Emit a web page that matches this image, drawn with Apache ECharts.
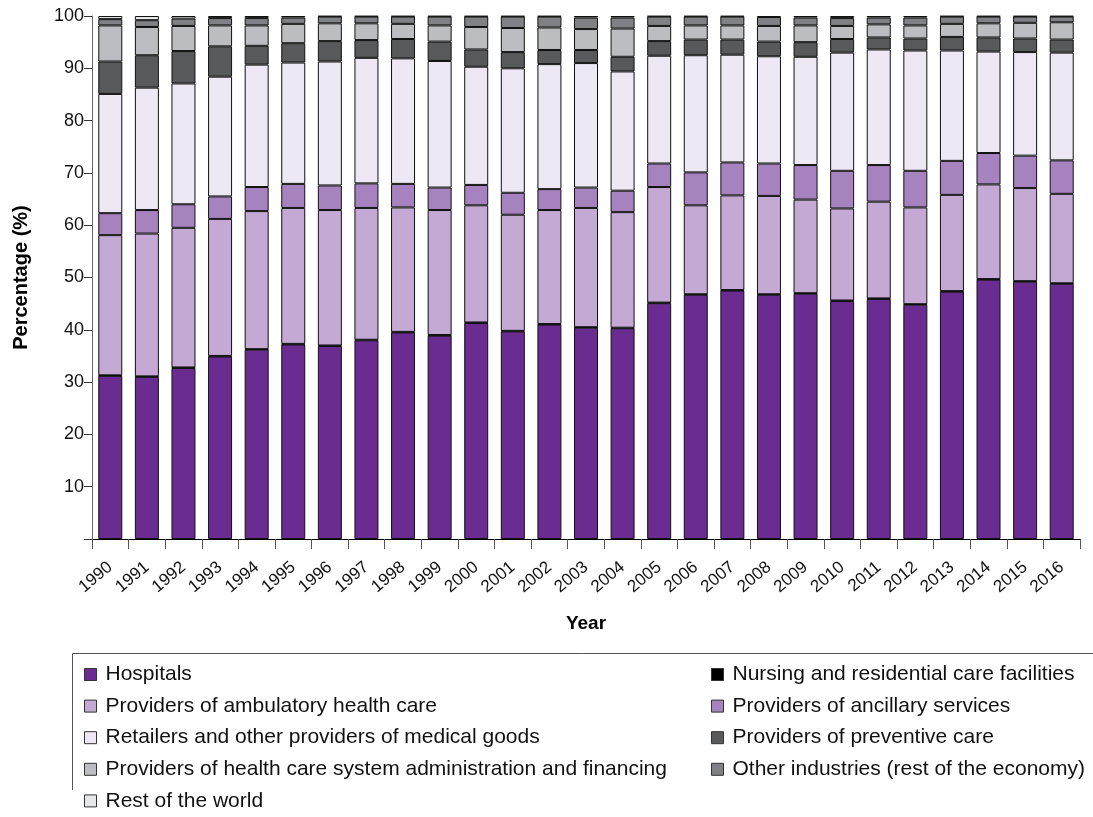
<!DOCTYPE html>
<html><head><meta charset="utf-8">
<script src="https://cdn.jsdelivr.net/npm/echarts@6/dist/echarts.min.js"></script>
<style>html,body{margin:0;padding:0;background:#fff}#c{width:1093px;height:817px}</style>
</head><body><div id="c"></div>
<script>
const years = ['1990','1991','1992','1993','1994','1995','1996','1997','1998','1999','2000','2001','2002','2003','2004','2005','2006','2007','2008','2009','2010','2011','2012','2013','2014','2015','2016'];
const hospitals = [31.2,31.0,32.7,34.9,36.2,37.2,36.9,38.0,39.5,38.9,41.3,39.7,41.0,40.4,40.3,45.1,46.7,47.5,46.7,46.9,45.5,45.9,44.8,47.3,49.6,49.2,48.8];
const nursing = [0.1,0.1,0.1,0.1,0.1,0.1,0.1,0.1,0.1,0.1,0.1,0.1,0.1,0.1,0.1,0.1,0.1,0.1,0.1,0.1,0.1,0.1,0.1,0.1,0.1,0.1,0.1];
const ambulatory = [26.8,27.3,26.7,26.2,26.4,26.0,25.9,25.2,23.8,23.9,22.4,22.2,21.8,22.8,22.1,22.1,17.0,18.1,18.8,17.9,17.6,18.5,18.5,18.4,18.1,17.8,17.1];
const ancillary = [4.2,4.5,4.5,4.3,4.6,4.6,4.7,4.7,4.5,4.3,3.9,4.2,4.0,3.9,4.1,4.5,6.3,6.3,6.2,6.6,7.2,7.0,7.0,6.5,6.0,6.2,6.4];
const retailers = [22.8,23.4,23.1,22.9,23.4,23.2,23.7,24.0,24.0,24.2,22.6,23.8,23.9,23.8,22.8,20.6,22.4,20.6,20.5,20.7,22.6,22.1,23.0,21.1,19.4,19.8,20.6];
const preventive = [6.2,6.2,6.2,5.8,3.6,3.7,3.9,3.4,3.7,3.7,3.3,3.1,2.7,2.5,2.8,2.8,3.0,2.9,2.8,2.8,2.6,2.3,2.3,2.6,2.7,2.6,2.5];
const administration = [6.9,5.4,4.8,4.0,3.9,3.7,3.4,3.2,2.9,3.1,4.3,4.6,4.3,4.0,5.4,2.9,2.7,2.7,3.0,3.2,2.5,2.5,2.5,2.5,2.7,3.0,3.3];
const otherIndustries = [1.2,1.3,1.4,1.4,1.4,1.2,1.3,1.3,1.4,1.7,2.0,2.2,2.1,2.2,2.1,1.8,1.7,1.7,1.7,1.5,1.5,1.3,1.5,1.4,1.3,1.2,1.1];
const restOfWorld = [0.6,0.8,0.5,0.4,0.4,0.3,0.1,0.1,0.1,0.1,0.1,0.1,0.1,0.3,0.3,0.1,0.1,0.1,0.2,0.3,0.4,0.3,0.3,0.1,0.1,0.1,0.1];
const yTicks = [10,20,30,40,50,60,70,80,90,100];

const seriesDefs = [
  ['Hospitals', hospitals, '#6a2c91'],
  ['Nursing and residential care facilities', nursing, '#000000'],
  ['Providers of ambulatory health care', ambulatory, '#c3a9d3'],
  ['Providers of ancillary services', ancillary, '#a682be'],
  ['Retailers and other providers of medical goods', retailers, '#eee8f4'],
  ['Providers of preventive care', preventive, '#58595b'],
  ['Providers of health care system administration and financing', administration, '#bcbdc0'],
  ['Other industries (rest of the economy)', otherIndustries, '#808184'],
  ['Rest of the world', restOfWorld, '#e6e7e8']
];

const chart = echarts.init(document.getElementById('c'), null, {renderer:'canvas'});
const font = 'Liberation Sans, Arial, sans-serif';
const legendText = {fontSize: 21, color: '#111', fontFamily: font, padding: [0,0,0,4]};
chart.setOption({
  animation: false,
  textStyle: {fontFamily: font},
  grid: {left: 92, right: 13, top: 16, bottom: 278, containLabel: false},
  xAxis: {
    type: 'category', data: years,
    name: 'Year', nameLocation: 'middle', nameGap: 75,
    nameTextStyle: {fontFamily: font, fontWeight: 'bold', fontSize: 19, color: '#000'},
    axisLine: {lineStyle: {color: '#000', width: 1}},
    axisTick: {show: true, length: 10, lineStyle: {color: '#555'}},
    axisLabel: {rotate: 40, fontSize: 17, color: '#111', margin: 26, fontFamily: font}
  },
  yAxis: {
    type: 'value', min: 0, max: 100, interval: 10,
    name: 'Percentage (%)', nameLocation: 'middle', nameGap: 61,
    nameTextStyle: {fontFamily: font, fontWeight: 'bold', fontSize: 20, color: '#000'},
    axisLine: {show: true, lineStyle: {color: '#666', width: 1}},
    axisTick: {show: true, length: 8, lineStyle: {color: '#333'}},
    splitLine: {show: false},
    axisLabel: {fontSize: 18, color: '#111', margin: 8, fontFamily: font,
      formatter: v => yTicks.indexOf(v) >= 0 ? String(v) : ''}
  },
  legend: [
    {orient: 'vertical', left: 79, top: 659, itemGap: 10.6, itemWidth: 12, itemHeight: 12, icon: 'rect',
     textStyle: legendText,
     itemStyle: {borderColor: '#333', borderWidth: 1},
     data: [seriesDefs[0][0], seriesDefs[2][0], seriesDefs[4][0], seriesDefs[6][0], seriesDefs[8][0]]},
    {orient: 'vertical', left: 706, top: 659, itemGap: 10.6, itemWidth: 12, itemHeight: 12, icon: 'rect',
     textStyle: legendText,
     itemStyle: {borderColor: '#333', borderWidth: 1},
     data: [seriesDefs[1][0], seriesDefs[3][0], seriesDefs[5][0], seriesDefs[7][0]]}
  ],
  graphic: [{type: 'polyline', silent: true,
    shape: {points: [[1093, 653.5], [72.5, 653.5], [72.5, 790]]},
    style: {stroke: '#555', lineWidth: 1, fill: null}}],
  series: seriesDefs.map(d => ({
    name: d[0], type: 'bar', stack: 'total', data: d[1], barWidth: 24,
    itemStyle: {color: d[2], borderColor: '#111', borderWidth: 1}
  }))
});
</script></body></html>
